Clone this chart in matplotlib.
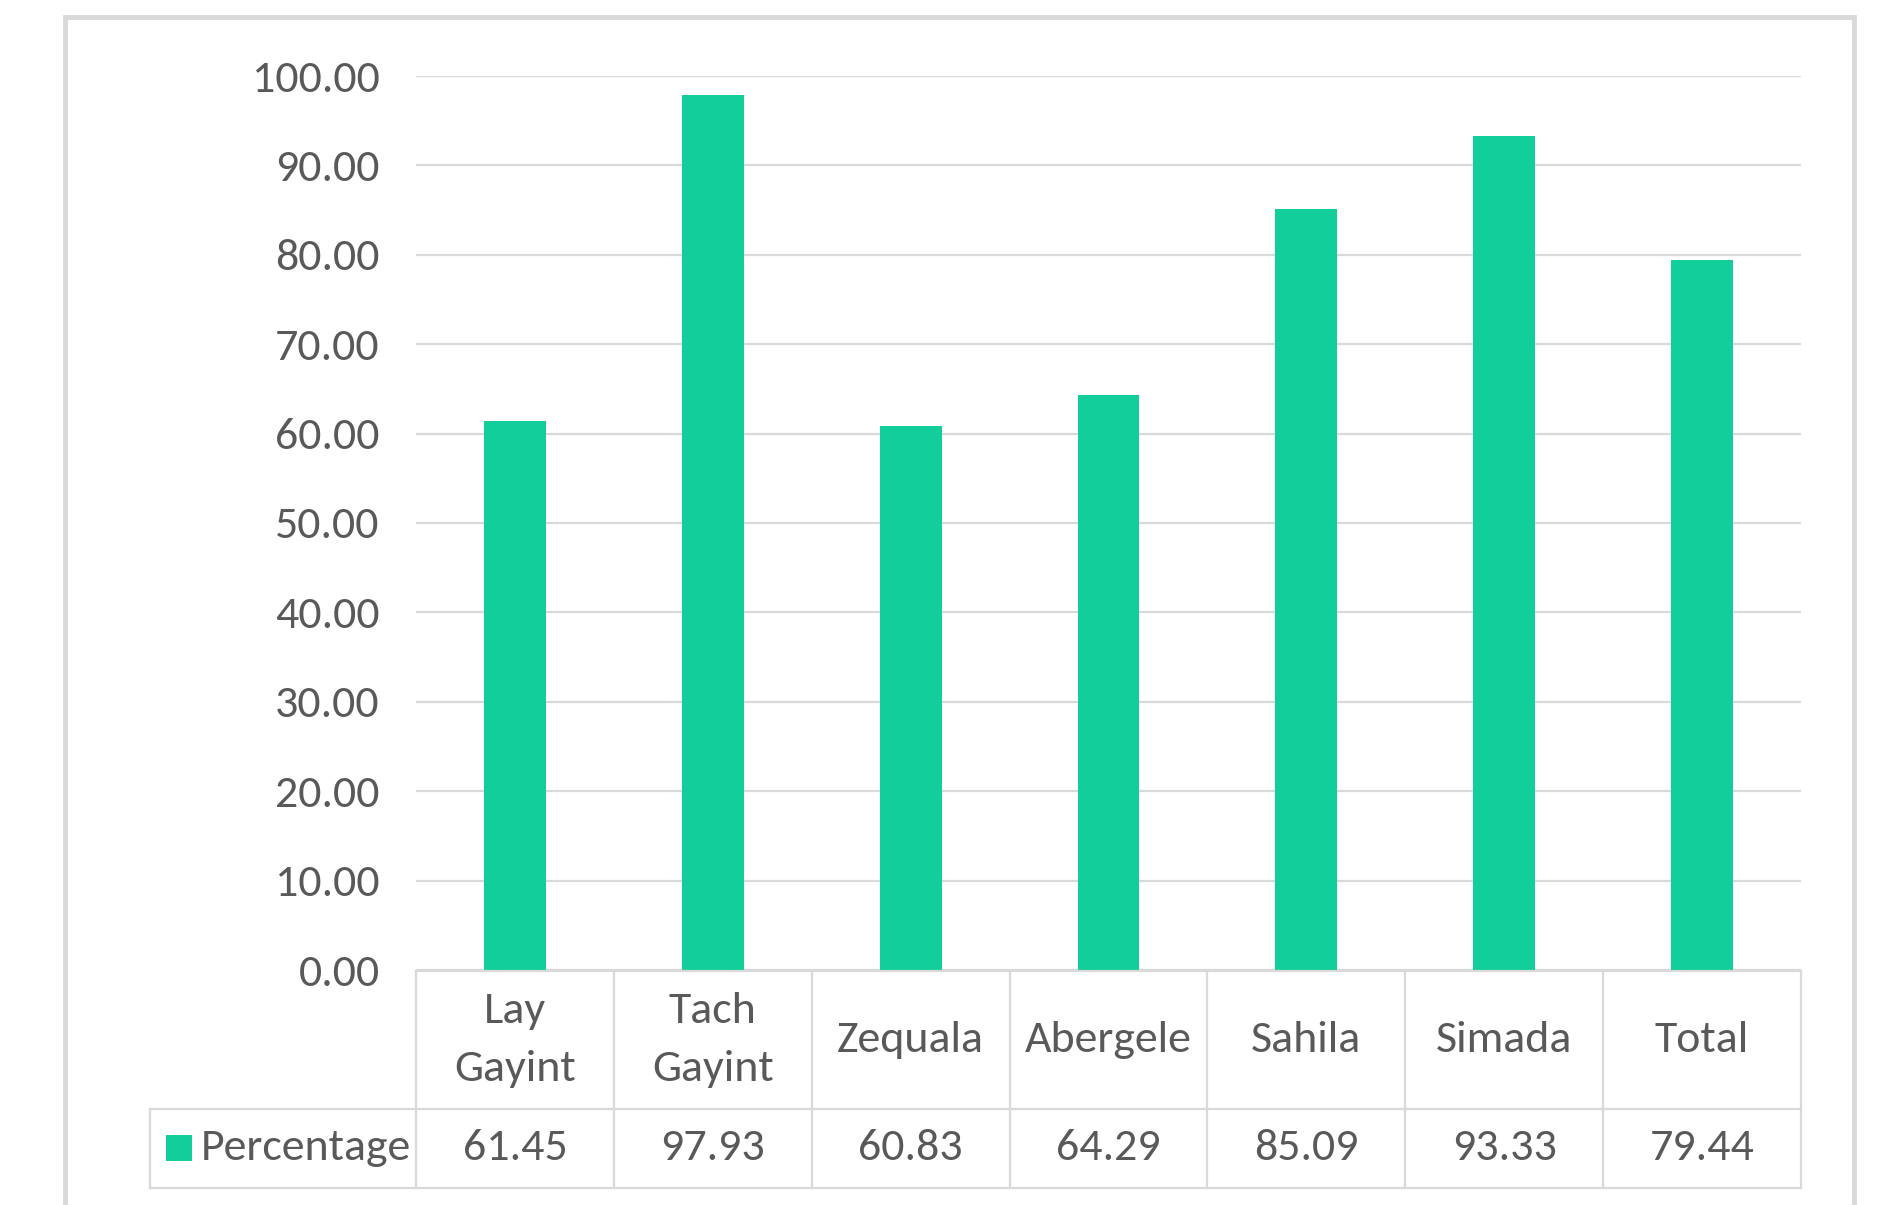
import matplotlib
matplotlib.use("Agg")
import matplotlib.pyplot as plt
from matplotlib import font_manager
from matplotlib.patches import Rectangle
from matplotlib.transforms import blended_transform_factory

# ---- data ----
categories = ["Lay\nGayint", "Tach\nGayint", "Zequala", "Abergele", "Sahila", "Simada", "Total"]
values = [61.45, 97.93, 60.83, 64.29, 85.09, 93.33, 79.44]
value_labels = ["61.45", "97.93", "60.83", "64.29", "85.09", "93.33", "79.44"]
series_name = "Percentage"
yticks = [0, 10, 20, 30, 40, 50, 60, 70, 80, 90, 100]

# ---- style ----
names = {f.name for f in font_manager.fontManager.ttflist}
choices = [("Carlito", 33), ("Liberation Sans Narrow", 31), ("IBM Plex Sans Condensed", 30),
           ("Liberation Sans", 26)]
fam, fs = "DejaVu Sans", 24
for nm, sz in choices:
    if nm in names:
        fam, fs = nm, sz
        break
plt.rcParams["font.family"] = [fam, "DejaVu Sans"]

BAR = "#12CE9A"
GRID = "#D9D9D9"
TXT = "#595959"

W, H = 1881, 1205
fig = plt.figure(figsize=(W / 100, H / 100), dpi=100)

# plot area in pixels
L, R, T, B = 416, 1801, 76, 970
ax = fig.add_axes([L / W, 1 - B / H, (R - L) / W, (B - T) / H])
ax.bar(range(len(values)), values, width=0.313, color=BAR, zorder=2)
ax.set_xlim(-0.5, len(values) - 0.5)
ax.set_ylim(0, 100)
ax.set_yticks(yticks)
ax.set_yticklabels([f"{v:.2f}" for v in yticks], fontsize=fs, color=TXT)
ax.tick_params(axis="y", length=0, pad=26)
ax.set_xticks([])
for s in ax.spines.values():
    s.set_visible(False)
ax.yaxis.grid(True, color=GRID, linewidth=1.6, zorder=0)
ax.set_axisbelow(True)

ph = B - T
pw = R - L
def ay(py):
    return -(py - B) / ph  # pixel y -> axes y
def axx(px):
    return (px - L) / pw

tr = blended_transform_factory(ax.transData, ax.transAxes)
n = len(values)
y_top, y_mid, y_bot = ay(971), ay(1109), ay(1188)
lw = 1.6
ax.plot([-0.5, n - 0.5], [y_top, y_top], transform=tr, color=GRID, lw=lw, clip_on=False)
ax.plot([axx(150), 1.0], [y_mid, y_mid], transform=ax.transAxes, color=GRID, lw=lw, clip_on=False)
ax.plot([axx(150), 1.0], [y_bot, y_bot], transform=ax.transAxes, color=GRID, lw=lw, clip_on=False)
for k in range(n + 1):
    ax.plot([k - 0.5, k - 0.5], [y_top, y_bot], transform=tr, color=GRID, lw=lw, clip_on=False)
ax.plot([axx(150), axx(150)], [y_mid, y_bot], transform=ax.transAxes, color=GRID, lw=lw, clip_on=False)

for i, (c, v) in enumerate(zip(categories, value_labels)):
    ax.text(i, ay(1040), c, transform=tr, ha="center", va="center", fontsize=fs,
            color=TXT, linespacing=1.65, clip_on=False)
    ax.text(i, ay(1148), v, transform=tr, ha="center", va="center", fontsize=fs,
            color=TXT, clip_on=False)

ax.add_patch(Rectangle((axx(166), ay(1161)), 26 / pw, 26 / ph, transform=ax.transAxes,
                       facecolor=BAR, edgecolor="none", clip_on=False))
ax.text(axx(201), ay(1148), series_name, transform=ax.transAxes, ha="left", va="center",
        fontsize=fs, color=TXT, clip_on=False)

fig.patches.append(Rectangle((65.5 / W, -0.05), (1854 - 65.5) / W, 1 - 16.5 / H + 0.05,
                             transform=fig.transFigure, facecolor="none",
                             edgecolor=GRID, linewidth=3.5))

fig.savefig("out.png", dpi=100, facecolor="white")
